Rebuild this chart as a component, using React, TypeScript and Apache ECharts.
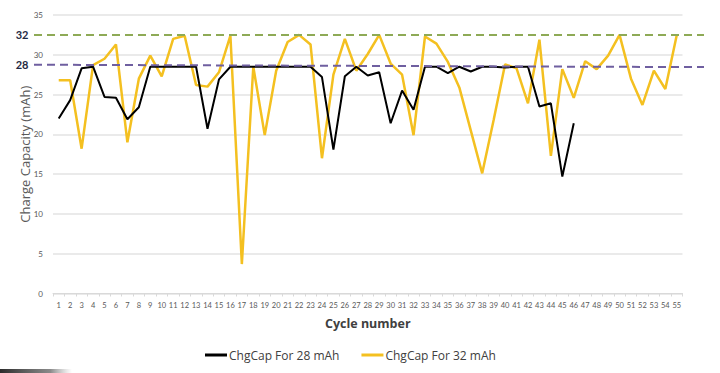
import React, { useEffect, useRef } from "react";
import * as echarts from "echarts";

const cycles: string[] = Array.from({ length: 55 }, (_, i) => String(i + 1));

const chg28: (number | null)[] = [
  22.0, 24.3, 28.3, 28.5, 24.7, 24.6, 21.9, 23.4, 28.5, 28.5,
  28.5, 28.5, 28.5, 20.7, 26.9, 28.5, 28.5, 28.5, 28.5, 28.5,
  28.5, 28.5, 28.5, 27.2, 18.1, 27.3, 28.5, 27.4, 27.8, 21.4,
  25.5, 23.1, 28.5, 28.5, 27.7, 28.5, 27.9, 28.5, 28.5, 28.4,
  28.5, 28.5, 23.5, 23.9, 14.7, 21.4, null, null, null, null,
  null, null, null, null, null,
];

const chg32: number[] = [
  26.8, 26.8, 18.2, 28.7, 29.5, 31.3, 19.0, 27.0, 29.9, 27.3,
  32.0, 32.4, 26.2, 26.0, 27.8, 32.4, 3.7, 28.5, 19.9, 28.0,
  31.6, 32.5, 31.3, 17.0, 27.5, 32.0, 28.0, 30.1, 32.5, 28.9,
  27.5, 19.9, 32.3, 31.4, 29.1, 25.9, 20.5, 15.1, 21.8, 28.8,
  28.3, 23.9, 31.9, 17.3, 28.2, 24.6, 29.2, 28.2, 29.9, 32.5,
  27.0, 23.7, 28.0, 25.7, 32.5,
];

// reference lines: [label, value at left, value at right, colour]
const refLabels: string[] = ["32", "28"];
const refStart: number[] = [32.5, 28.75];
const refEnd: number[] = [32.5, 28.45];
const refColors: string[] = ["#8eaa56", "#6f5fa0"];

const FONT = "Lato, 'Open Sans', sans-serif";
const WIDE = "'Open Sans', Lato, sans-serif";

export default function App() {
  const ref = useRef<HTMLDivElement>(null);
  useEffect(() => {
    if (!ref.current) return;
    const chart = echarts.init(ref.current, undefined, { renderer: "svg" });
    chart.setOption({
      animation: false,
      backgroundColor: "#ffffff",
      textStyle: { fontFamily: FONT },
      grid: { left: 53, right: 37.5, top: 15, bottom: 79.5 },
      legend: {
        bottom: 7,
        left: 200,
        itemWidth: 22,
        itemHeight: 3,
        itemGap: 22,
        icon: "rect",
        textStyle: { fontSize: 12, color: "#404040", fontFamily: WIDE, padding: [0, 0, 0, -3] },
        data: ["ChgCap For 28 mAh", "ChgCap For 32 mAh"],
      },
      xAxis: {
        type: "category",
        data: cycles,
        boundaryGap: true,
        name: "Cycle number",
        nameLocation: "middle",
        nameGap: 23,
        nameMoveOverlap: false,
        nameTextStyle: { fontSize: 12.5, fontWeight: "bold", color: "#404040", fontFamily: WIDE },
        axisLine: { lineStyle: { color: "#d9d9d9", width: 1 } },
        axisTick: { show: true, length: 3, lineStyle: { color: "#d9d9d9" } },
        axisLabel: { interval: 0, fontSize: 7.5, color: "#595959", margin: 8 },
      },
      yAxis: {
        type: "value",
        min: 0,
        max: 35,
        interval: 5,
        name: "Charge Capacity (mAh)",
        nameLocation: "middle",
        nameGap: 22,
        nameMoveOverlap: false,
        nameTextStyle: { fontSize: 13, color: "#595959", fontFamily: WIDE },
        axisLine: { show: false },
        axisTick: { show: false },
        axisLabel: { fontSize: 8, color: "#595959", margin: 10 },
        splitLine: { lineStyle: { color: "#e3e3e3", width: 1.5 } },
      },
      series: [
        {
          name: "ChgCap For 28 mAh",
          type: "line",
          data: chg28,
          symbol: "none",
          color: "#000000",
          lineStyle: { width: 2, color: "#000000" },
          z: 3,
        },
        {
          name: "ChgCap For 32 mAh",
          type: "line",
          data: chg32,
          symbol: "none",
          color: "#f4c020",
          lineStyle: { width: 2.5, color: "#f4c020" },
          z: 2,
        },
      ],
    });

    const graphics: any[] = [];
    refLabels.forEach((lab, i) => {
      const y1 = chart.convertToPixel({ yAxisIndex: 0 }, refStart[i]) as number;
      const y2 = chart.convertToPixel({ yAxisIndex: 0 }, refEnd[i]) as number;
      graphics.push({
        type: "line",
        shape: { x1: 34, y1, x2: 704, y2 },
        style: { stroke: refColors[i], lineWidth: 2, lineDash: [8, 5] },
        z: 10,
      });
      graphics.push({
        type: "text",
        x: 22,
        y: y1,
        style: {
          text: lab,
          fontSize: 11,
          fontWeight: "bold",
          fill: "#1f2a44",
          fontFamily: FONT,
          align: "center",
          verticalAlign: "middle",
        },
        z: 10,
      });
    });
    graphics.push({
      type: "rect",
      shape: { x: 0, y: 369, width: 72, height: 4 },
      style: {
        fill: new echarts.graphic.LinearGradient(0, 0, 1, 0, [
          { offset: 0, color: "rgba(20,20,20,0.9)" },
          { offset: 0.7, color: "rgba(60,60,60,0.6)" },
          { offset: 1, color: "rgba(120,120,120,0)" },
        ]),
      },
      z: 10,
    });
    chart.setOption({ graphic: graphics });

    return () => chart.dispose();
  }, []);
  return <div ref={ref} style={{ width: 720, height: 373, position: "absolute", left: 0, top: 0 }} />;
}
